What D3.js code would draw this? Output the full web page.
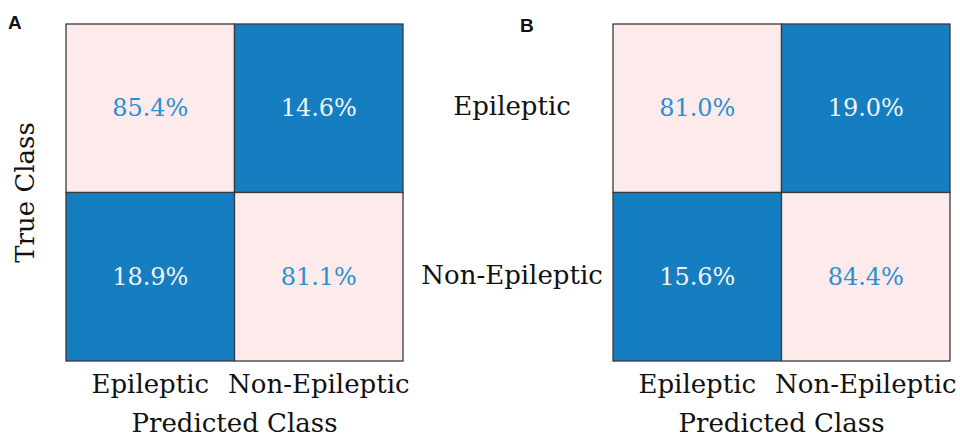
<!DOCTYPE html>
<html>
<head>
<meta charset="utf-8">
<script src="https://cdn.jsdelivr.net/npm/d3@7"></script>
<style>
  body { margin: 0; background: #fff; }
  svg text { font-family: "DejaVu Serif", serif; }
</style>
</head>
<body>
<div id="chart"></div>
<script>
// classes, same order on both axes
var classes = ["Epileptic", "Non-Epileptic"];

// confusion matrices, row = true class, col = predicted class (percent)
var matrixA = [[85.4, 14.6], [18.9, 81.1]];
var matrixB = [[81.0, 19.0], [15.6, 84.4]];

var panelLabels = ["A", "B"];

var width = 960, height = 439;

var svg = d3.select("#chart")
    .append("svg")
    .attr("width", width)
    .attr("height", height);

var pink = "#fdebec",
    blue = "#147ec0";

var labelSize = "26px";

function drawMatrix(data, left, label, opts) {
    var size = 337, top = 24;

    var x = d3.scaleBand().domain(classes).range([left, left + size]);
    var y = d3.scaleBand().domain(classes).range([top, top + size]);

    var g = svg.append("g");

    var cells = [];
    data.forEach(function(row, i) {
        row.forEach(function(v, j) {
            cells.push({row: classes[i], col: classes[j], value: v, diag: i == j});
        });
    });

    g.selectAll("rect")
        .data(cells)
        .join("rect")
        .attr("x", d => x(d.col))
        .attr("y", d => y(d.row))
        .attr("width", x.bandwidth())
        .attr("height", y.bandwidth())
        .attr("fill", d => d.diag ? pink : blue)
        .attr("stroke", "#3a3a3a")
        .attr("stroke-width", 1.3);

    g.selectAll("text.val")
        .data(cells)
        .join("text")
        .attr("class", "val")
        .attr("x", d => x(d.col) + x.bandwidth() / 2)
        .attr("y", d => y(d.row) + y.bandwidth() / 2 + 8)
        .attr("text-anchor", "middle")
        .style("font-size", "24px")
        .attr("fill", d => d.diag ? "#2b8fd2" : "#f4f4f4")
        .text(d => d.value.toFixed(1) + "%");

    // x axis labels
    var xAxis = d3.axisBottom(x).tickSize(0).tickPadding(0);
    var ax = g.append("g")
        .attr("transform", `translate(0,${top + size})`)
        .call(xAxis);
    ax.select(".domain").remove();
    ax.selectAll("text")
        .attr("y", 32)
        .attr("dy", null)
        .style("font-size", labelSize)
        .style("font-family", "DejaVu Serif, serif")
        .attr("fill", "#111");

    g.append("text")
        .attr("x", left + size / 2)
        .attr("y", 432)
        .attr("text-anchor", "middle")
        .style("font-size", labelSize)
        .attr("fill", "#111")
        .text("Predicted Class");

    if (opts.rowLabels) {
        var yAxis = d3.axisLeft(y).tickSize(0).tickPadding(0);
        var ay = g.append("g")
            .attr("transform", `translate(${opts.rowLabelX},0)`)
            .call(yAxis);
        ay.select(".domain").remove();
        ay.selectAll("text")
            .attr("x", 0)
            .attr("dy", "0.27em")
            .attr("text-anchor", "middle")
            .style("font-size", labelSize)
            .style("font-family", "DejaVu Serif, serif")
            .attr("fill", "#111");
    }

    if (opts.yTitle) {
        g.append("text")
            .attr("transform", `translate(34,${top + size / 2}) rotate(-90)`)
            .attr("text-anchor", "middle")
            .style("font-size", labelSize)
            .attr("fill", "#111")
            .text("True Class");
    }

    svg.append("text")
        .attr("x", opts.labelX)
        .attr("y", opts.labelY)
        .style("font-family", "Liberation Sans, Arial, sans-serif")
        .style("font-weight", "bold")
        .style("font-size", "19px")
        .attr("fill", "#111")
        .text(label);
}

drawMatrix(matrixA, 66, panelLabels[0], {rowLabels: false, yTitle: true, labelX: 8, labelY: 29});
drawMatrix(matrixB, 613, panelLabels[1], {rowLabels: true, rowLabelX: 512, yTitle: false, labelX: 520, labelY: 32});
</script>
</body>
</html>
